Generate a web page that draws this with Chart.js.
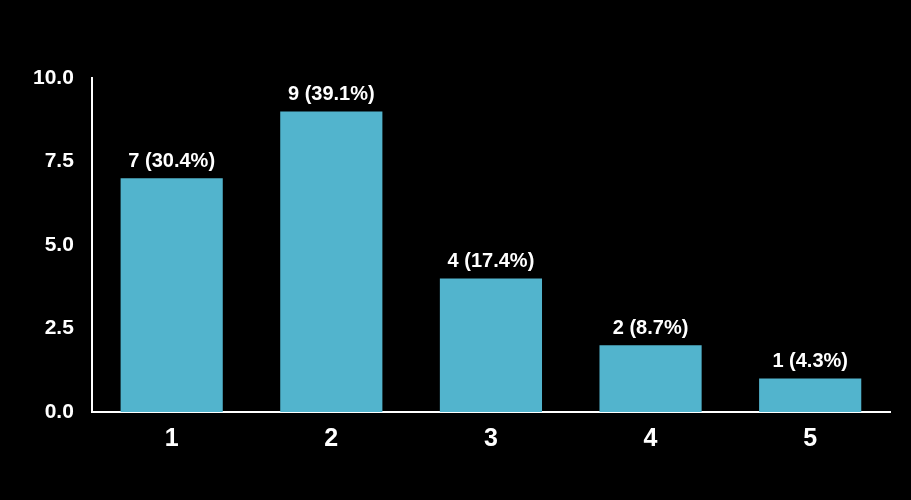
<!DOCTYPE html>
<html>
<head>
<meta charset="utf-8">
<script src="https://cdn.jsdelivr.net/npm/chart.js@4.4.0/dist/chart.umd.min.js"></script>
<style>
  html, body { margin: 0; padding: 0; background: #000; }
  #wrap { width: 911px; height: 500px; }
</style>
</head>
<body>
<div id="wrap"><canvas id="chart"></canvas></div>
<script>
// chart data
const categories = ["1", "2", "3", "4", "5"];
const counts = [7, 9, 4, 2, 1];
const yTicks = [0, 2.5, 5, 7.5, 10];

const total = counts.reduce((a, b) => a + b, 0);
const FONT = "'Liberation Sans', Arial, sans-serif";

// draws "n (p%)" above each bar
const barLabels = {
  id: "barLabels",
  afterDatasetsDraw(chart) {
    const ctx = chart.ctx;
    const meta = chart.getDatasetMeta(0);
    ctx.save();
    ctx.fillStyle = "#ffffff";
    ctx.font = "bold 20px " + FONT;
    ctx.textAlign = "center";
    ctx.textBaseline = "bottom";
    meta.data.forEach((bar, i) => {
      const pct = (counts[i] / total * 100).toFixed(1);
      ctx.fillText(counts[i] + " (" + pct + "%)", bar.x, bar.y - 7);
    });
    ctx.restore();
  }
};

new Chart(document.getElementById("chart"), {
  type: "bar",
  data: {
    labels: categories,
    datasets: [{
      data: counts,
      backgroundColor: "#52b4cd",
      borderWidth: 0,
      barPercentage: 0.8,
      categoryPercentage: 0.8
    }]
  },
  options: {
    responsive: true,
    maintainAspectRatio: false,
    animation: false,
    layout: { padding: { top: 78, right: 21, bottom: 34, left: 15 } },
    plugins: {
      legend: { display: false },
      tooltip: { enabled: false }
    },
    scales: {
      x: {
        grid: { display: false, drawTicks: false },
        border: { color: "#ffffff", width: 2 },
        ticks: {
          color: "#ffffff",
          font: { family: FONT, size: 25, weight: "bold" },
          padding: 12
        }
      },
      y: {
        min: 0,
        max: 10,
        afterBuildTicks(axis) {
          axis.ticks = yTicks.map(v => ({ value: v }));
        },
        grid: { display: false, drawTicks: false },
        border: { color: "#ffffff", width: 2 },
        ticks: {
          color: "#ffffff",
          font: { family: FONT, size: 21, weight: "bold" },
          padding: 18,
          callback: v => v.toFixed(1)
        }
      }
    }
  },
  plugins: [barLabels]
});
</script>
</body>
</html>
